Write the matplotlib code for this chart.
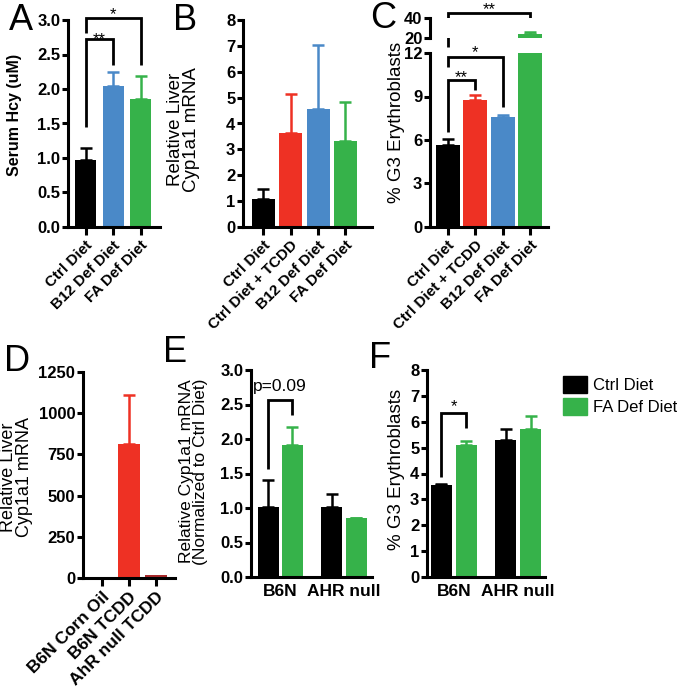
import matplotlib
matplotlib.use("Agg")
import matplotlib.pyplot as plt
from matplotlib.patches import Patch

plt.rcParams['font.family'] = ['Liberation Sans', 'DejaVu Sans']

W, H = 677, 689

# ---------------- data ----------------
a_labels = ["Ctrl Diet", "B12 Def Diet", "FA Def Diet"]
a_means = [0.97, 2.04, 1.86]
a_err = [0.17, 0.20, 0.33]

b_labels = ["Ctrl Diet", "Ctrl Diet + TCDD", "B12 Def Diet", "FA Def Diet"]
b_means = [1.08, 3.65, 4.55, 3.33]
b_err = [0.38, 1.48, 2.50, 1.50]

c_labels = ["Ctrl Diet", "Ctrl Diet + TCDD", "B12 Def Diet", "FA Def Diet"]
c_means = [5.65, 8.75, 7.60, 24.0]
c_err = [0.45, 0.35, 0.12, 2.5]

d_labels = ["B6N Corn Oil", "B6N TCDD", "AhR null TCDD"]
d_means = [2, 815, 20]
d_err = [0, 295, 0]

groups = ["B6N", "AHR null"]
series = ["Ctrl Diet", "FA Def Diet"]
e_ctrl = [1.02, 1.02]
e_ctrl_err = [0.38, 0.19]
e_fa = [1.91, 0.85]
e_fa_err = [0.26, 0.01]
f_ctrl = [3.57, 5.29]
f_ctrl_err = [0.03, 0.42]
f_fa = [5.10, 5.72]
f_fa_err = [0.17, 0.50]

BLACK = '#000000'
RED = '#ee3124'
BLUE = '#4a89c8'
GREEN = '#36b24a'
DARKRED = '#a8292b'

fig = plt.figure(figsize=(W / 100, H / 100), dpi=100)


def axes_px(x0, x1, ytop, ybot):
    return fig.add_axes([x0 / W, 1 - ybot / H, (x1 - x0) / W, (ybot - ytop) / H])


def style(ax, xtick_len=6):
    for s in ['top', 'right']:
        ax.spines[s].set_visible(False)
    for s in ['left', 'bottom']:
        ax.spines[s].set_linewidth(2.2)
    ax.tick_params(axis='y', width=2.2, length=4.5, pad=1)
    ax.tick_params(axis='x', width=2.2, length=xtick_len, pad=2)


def draw_bars(ax, x, means, errs, colors, width):
    ax.bar(x, means, width=width, color=colors, linewidth=0, zorder=2)
    for xi, m, e, c in zip(x, means, errs, colors):
        if e > 0:
            ax.errorbar(xi, m, yerr=[[0], [e]], fmt='none', ecolor=c,
                        elinewidth=1.8, capsize=4.5, capthick=1.8, zorder=2)


def yticks(ax, ticks, fmt):
    ax.set_yticks(ticks, labels=[fmt.format(t) for t in ticks],
                  fontweight='bold', fontsize=12)


def bracket(ax, x1, x2, ytop, yl, yr, text, dy, fs=12, va='baseline'):
    ax.plot([x1, x1, x2, x2], [yl, ytop, ytop, yr], color='k', lw=2,
            clip_on=False, solid_joinstyle='miter', solid_capstyle='butt', zorder=5)
    ax.annotate(text, xy=((x1 + x2) / 2, ytop), xytext=(0, dy),
                textcoords='offset points', ha='center', va=va, fontsize=fs,
                annotation_clip=False)


CAT_FS = 11

# ---------------- Panel A ----------------
axA = axes_px(68, 160, 20, 227)
xa = list(range(len(a_labels)))
draw_bars(axA, xa, a_means, a_err, [BLACK, BLUE, GREEN], 0.76)
axA.set_xlim(-0.64, 2.7)
axA.set_ylim(0, 3)
style(axA)
yticks(axA, [0, 0.5, 1.0, 1.5, 2.0, 2.5, 3.0], '{:.1f}')
axA.set_xticks(xa, labels=a_labels, rotation=45, ha='right', rotation_mode='anchor',
               fontweight='bold', fontsize=CAT_FS)
axA.set_ylabel('Serum Hcy (uM)', fontsize=11.5, fontweight='bold')
axA.yaxis.set_label_coords(-0.5, 0.54)
bracket(axA, 0, 1, 2.72, 1.45, 2.35, '**', -3.5)
bracket(axA, 0, 2, 3.03, 2.81, 2.35, '*', -1.2)

# ---------------- Panel B ----------------
axB = axes_px(243, 372, 20, 227)
xb = list(range(len(b_labels)))
draw_bars(axB, xb, b_means, b_err, [BLACK, RED, BLUE, GREEN], 0.84)
axB.set_xlim(-0.75, 3.97)
axB.set_ylim(0, 8)
style(axB)
yticks(axB, list(range(0, 9)), '{:d}')
axB.set_xticks(xb, labels=b_labels, rotation=45, ha='right', rotation_mode='anchor',
               fontweight='bold', fontsize=CAT_FS)
axB.set_ylabel('Relative Liver\nCyp1a1 mRNA', fontsize=13.5, linespacing=0.95)
axB.yaxis.set_label_coords(-0.333, 0.47)

# ---------------- Panel C (broken axis) ----------------
axC = axes_px(430, 548, 53, 227)
axC2 = axes_px(430, 548, 18, 38)
xc = list(range(len(c_labels)))
for ax in (axC, axC2):
    draw_bars(ax, xc, c_means, c_err, [BLACK, RED, BLUE, GREEN], 0.87)
    ax.set_xlim(-0.64, 3.65)
    style(ax)
axC.set_ylim(0, 12)
axC2.set_ylim(20, 40)
yticks(axC, [0, 3, 6, 9, 12], '{:d}')
yticks(axC2, [20, 40], '{:d}')
axC2.spines['bottom'].set_visible(False)
axC2.set_xticks([])
axC.set_xticks(xc, labels=c_labels, rotation=45, ha='right', rotation_mode='anchor',
               fontweight='bold', fontsize=CAT_FS)
axC.set_ylabel('% G3 Erythroblasts', fontsize=13.5)
axC.yaxis.set_label_coords(-0.21, 0.6)
bracket(axC, 0, 3, 14.76, 12.41, 14.07, '**', -0.9)
bracket(axC, 0, 2, 11.72, 11.03, 8.28, '*', 0.2)
bracket(axC, 0, 1, 10.14, 6.55, 9.45, '**', -1.2)

# ---------------- Panel D ----------------
axD = axes_px(83, 175, 372, 578)
xd = list(range(len(d_labels)))
draw_bars(axD, xd, d_means, d_err, [BLACK, RED, DARKRED], 0.8)
axD.set_xlim(-0.7, 2.7)
axD.set_ylim(0, 1250)
style(axD)
yticks(axD, [0, 250, 500, 750, 1000, 1250], '{:d}')
axD.set_xticks(xd, labels=d_labels, rotation=45, ha='right', rotation_mode='anchor',
               fontweight='bold', fontsize=12.5)
axD.set_ylabel('Relative Liver\nCyp1a1 mRNA', fontsize=13, linespacing=0.95)
axD.yaxis.set_label_coords(-0.54, 0.49)

# ---------------- Panel E ----------------
axE = axes_px(251, 372, 370, 577)
xg = list(range(len(groups)))
off, bw = 0.19, 0.33
draw_bars(axE, [g - off for g in xg], e_ctrl, e_ctrl_err, [BLACK] * 2, bw)
draw_bars(axE, [g + off for g in xg], e_fa, e_fa_err, [GREEN] * 2, bw)
axE.set_xlim(-0.46, 1.44)
axE.set_ylim(0, 3)
style(axE, xtick_len=0)
yticks(axE, [0, 0.5, 1.0, 1.5, 2.0, 2.5, 3.0], '{:.1f}')
axE.set_xticks(xg, labels=groups, fontweight='bold', fontsize=12.5)
axE.tick_params(axis='x', pad=5)
axE.set_ylabel('Relative Cyp1a1 mRNA\n(Normalized to Ctrl Diet)', fontsize=12.5,
               linespacing=0.9)
axE.yaxis.set_label_coords(-0.355, 0.51)
bracket(axE, -off, off, 2.57, 1.57, 2.35, 'p=0.09', 9.5, fs=12.5, va='center')

# ---------------- Panel F ----------------
axF = axes_px(427, 545, 370, 577)
off2, bw2 = 0.195, 0.34
axF.bar([g - off2 for g in xg], f_ctrl, width=bw2, color=BLACK, linewidth=0,
        zorder=2, label=series[0])
axF.bar([g + off2 for g in xg], f_fa, width=bw2, color=GREEN, linewidth=0,
        zorder=2, label=series[1])
for xs, ms, es, c in (([g - off2 for g in xg], f_ctrl, f_ctrl_err, BLACK),
                      ([g + off2 for g in xg], f_fa, f_fa_err, GREEN)):
    for xi, m, e in zip(xs, ms, es):
        axF.errorbar(xi, m, yerr=[[0], [e]], fmt='none', ecolor=c,
                     elinewidth=1.8, capsize=4.5, capthick=1.8, zorder=2)
axF.set_xlim(-0.42, 1.42)
axF.set_ylim(0, 8)
style(axF, xtick_len=0)
yticks(axF, list(range(0, 9)), '{:d}')
axF.set_xticks(xg, labels=groups, fontweight='bold', fontsize=12.5)
axF.tick_params(axis='x', pad=5)
axF.set_ylabel('% G3 Erythroblasts', fontsize=13.5)
axF.yaxis.set_label_coords(-0.186, 0.52)
bracket(axF, -off2, off2, 6.32, 3.87, 5.74, '*', 1.4)

# legend
fig.legend(handles=[Patch(color=BLACK), Patch(color=GREEN)], labels=series,
           loc='upper left', bbox_to_anchor=(563 / W, 1 - 376 / H), frameon=False,
           fontsize=12, handlelength=1.45, handleheight=1.2, handletextpad=0.35,
           labelspacing=0.3, borderpad=0, borderaxespad=0)

# panel letters
for letter, (px, py) in {'A': (21, 21), 'B': (185, 21), 'C': (383, 19),
                         'D': (17, 362), 'E': (175, 353), 'F': (380, 358)}.items():
    fig.text(px / W, 1 - py / H, letter, fontsize=26, ha='center', va='center')

fig.savefig('out.png', dpi=100)
